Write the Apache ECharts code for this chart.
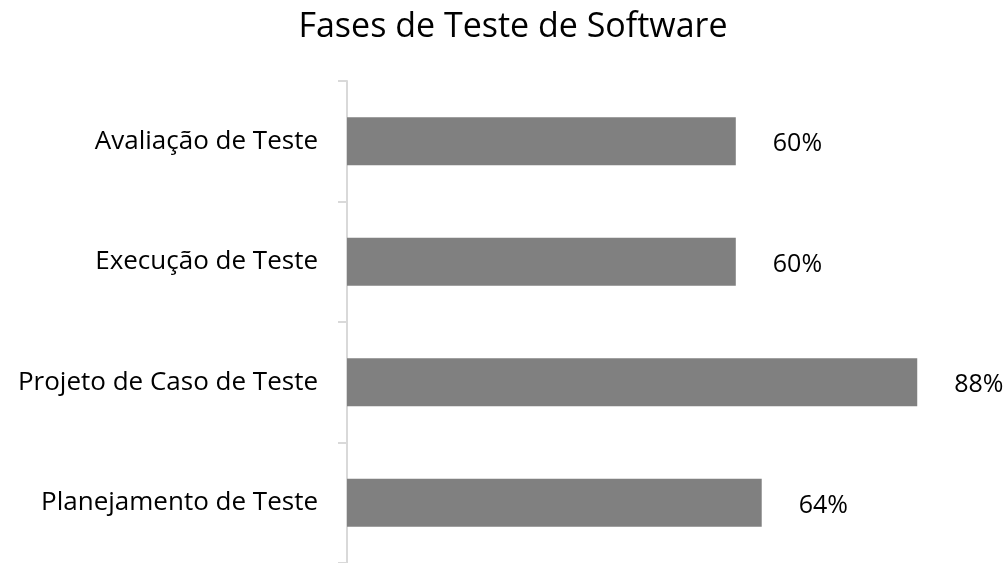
<!DOCTYPE html>
<html><head><meta charset="utf-8">
<script src="https://cdn.jsdelivr.net/npm/echarts@6/dist/echarts.min.js"></script>
<style>html,body{margin:0;padding:0;background:#fff}#c{width:1007px;height:563px}</style>
</head><body><div id="c"></div>
<script>
const categories = ['Planejamento de Teste', 'Projeto de Caso de Teste', 'Execução de Teste', 'Avaliação de Teste'];
const values = [64, 88, 60, 60];
const titleText = 'Fases de Teste de Software';
const chart = echarts.init(document.getElementById('c'));
chart.setOption({
  animation: false,
  backgroundColor: '#fff',
  title: { text: titleText, left: 508, textAlign: 'center', top: 5,
    textStyle: { fontFamily: 'Open Sans', fontSize: 34, fontWeight: 'normal', color: '#000' } },
  grid: { left: 347, top: 81, width: 648, bottom: -1, containLabel: false },
  xAxis: { type: 'value', min: 0, max: 100, show: false },
  yAxis: { type: 'category', data: categories,
    axisLine: { lineStyle: { color: '#d9d9d9', width: 2 } },
    axisTick: { show: true, length: 9, lineStyle: { color: '#d9d9d9', width: 2 } },
    axisLabel: { margin: 29, fontFamily: 'Open Sans', fontSize: 26, color: '#000' } },
  series: [{ type: 'bar', data: values, barWidth: 48,
    itemStyle: { color: '#808080' },
    label: { show: true, position: 'right', distance: 37, formatter: '{c}%',
      fontFamily: 'Open Sans', fontSize: 25, color: '#000', offset: [0, 3] } }]
});
</script></body></html>
